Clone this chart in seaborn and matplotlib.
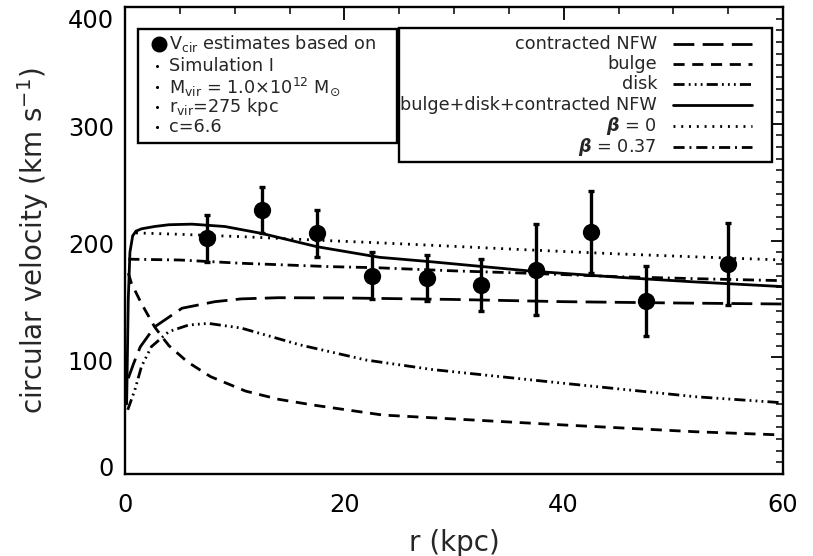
import numpy as np
import pandas as pd
import matplotlib
matplotlib.use("Agg")
import matplotlib.pyplot as plt
import matplotlib.transforms as mtransforms
import seaborn as sns
from matplotlib.lines import Line2D
from matplotlib.patches import Rectangle

# ---------------- data ----------------
r_obs = [7.5, 12.5, 17.5, 22.5, 27.5, 32.5, 37.5, 42.5, 47.5, 55.0]
v_obs = [202, 226, 206, 170, 168, 162, 175, 207, 148, 180]
e_obs = [20, 20, 20, 20, 20, 22, 39, 35, 30, 35]

r_nfw = [0.3, 0.8, 1.4, 2.7, 5.2, 8.2, 10.6, 14, 20, 30, 40, 50, 60]
v_nfw = [82, 95, 109, 126, 142, 147.6, 150, 151, 150.8, 149.5, 147.6, 146.5, 145.6]

r_bulge = [0.3, 0.6, 1.5, 2.7, 3.5, 4.0, 5.7, 7.8, 11.0, 14, 17.2, 23.5, 29.3, 40, 52, 60]
v_bulge = [172, 163, 146, 126, 116, 110, 96, 83.4, 71, 64, 59, 50.5, 47.5, 42, 36.2, 33.4]

r_disk = [0.25, 0.9, 1.5, 2.4, 4.0, 5.8, 7.6, 10.6, 16, 22, 28, 40, 52, 60]
v_disk = [55, 72, 92, 109, 122, 127.6, 129, 125, 110.5, 97.6, 89.5, 77.7, 66.2, 61]

r_tot = [0.15, 0.3, 0.45, 0.7, 1.0, 1.5, 2.7, 4.0, 6.1, 9.1, 12.5, 17.5, 23.2, 27.8, 36.9, 45, 52, 60]
v_tot = [60, 150, 190, 204, 208, 210, 212, 213.5, 214, 212, 206, 194.7, 185.6, 181.9, 173.9, 168.5, 164.5, 160.5]

r_b0 = [1.0, 5, 10.6, 18.7, 23.2, 30, 36.9, 45, 52, 60]
v_b0 = [206.5, 205.3, 203.3, 199.8, 198, 195, 191.9, 188.5, 186, 183.3]

r_b37 = [0.3, 5, 10.6, 18.7, 22.9, 30, 36.9, 45, 52, 60]
v_b37 = [184, 183.3, 180.5, 177.6, 176.7, 174, 171.9, 169, 167.3, 165.6]

x_ticks = [0, 20, 40, 60]
y_ticks = [0, 100, 200, 300, 400]

info_lines = ["Simulation I",
              r"M$_{\rm vir}$ = 1.0$\times$10$^{12}$ M$_{\odot}$",
              r"r$_{\rm vir}$=275 kpc",
              "c=6.6"]
legend_labels = ["contracted NFW", "bulge", "disk", "bulge+disk+contracted NFW",
                 r"$\boldsymbol{\beta}$ = 0", r"$\boldsymbol{\beta}$ = 0.37"]

# ---------------- style ----------------
sns.set_style("white")
plt.rcParams['font.family'] = ['DejaVu Sans']
plt.rcParams['mathtext.fontset'] = 'dejavusans'
plt.rcParams['lines.scale_dashes'] = False

W, H = 813, 556
fig = plt.figure(figsize=(W / 100, H / 100), dpi=100)
L, R, T, B = 125, 783, 7, 474
ax = fig.add_axes([L / W, 1 - B / H, (R - L) / W, (B - T) / H])

def px(x, y):
    return (x / W, 1 - y / H)

LW = 2.0
styles = {
    "nfw": (0, (15, 6)),
    "bulge": (0, (8, 5.5)),
    "disk": (0, (8, 3, 1.3, 3, 1.3, 3, 1.3, 3)),
    "tot": "-",
    "b0": (0, (1.4, 4.2)),
    "b37": (0, (8, 3.5, 1.4, 3.5)),
}

curves = [("nfw", r_nfw, v_nfw), ("bulge", r_bulge, v_bulge), ("disk", r_disk, v_disk),
          ("tot", r_tot, v_tot), ("b0", r_b0, v_b0), ("b37", r_b37, v_b37)]
for key, rr, vv in curves:
    df = pd.DataFrame({"r": rr, "v": vv})
    sns.lineplot(data=df, x="r", y="v", ax=ax, color="black", linewidth=LW,
                 linestyle=styles[key], estimator=None, sort=False)

ax.errorbar(r_obs, v_obs, yerr=e_obs, fmt="none", ecolor="black", elinewidth=2.4,
            capsize=2.5, capthick=2.4, zorder=4)
sns.scatterplot(x=r_obs, y=v_obs, ax=ax, color="black", s=155, edgecolor="black",
                linewidth=0, zorder=5)

ax.set_xlim(0, 60)
ax.set_ylim(0, 400)
ax.set_xticks(x_ticks)
ax.set_xticks(np.arange(0, 61, 5), minor=True)
ax.set_yticks(y_ticks)
ax.set_yticks(np.arange(0, 401, 10), minor=True)
ax.tick_params(which="major", direction="in", top=True, right=True, length=9,
               width=1.3, labelsize=17.4, colors="black")
ax.tick_params(which="minor", direction="in", top=True, right=True, length=5, width=1.3)
ax.tick_params(axis="x", which="major", pad=14)
ax.tick_params(axis="y", which="major", pad=8)
for s in ax.spines.values():
    s.set_linewidth(1.7)
    s.set_color("black")
ax.set_xlabel("r (kpc)", fontsize=20, labelpad=8)
ax.set_ylabel(r"circular velocity (km s$^{-1}$)", fontsize=20, labelpad=12)

# shift y tick labels like the reference (pixels, positive = down)
shifts = {0: -8, 100: 3, 200: 3, 300: 3, 400: 11}
fig.canvas.draw()
for val, lab in zip(y_ticks, ax.get_yticklabels()):
    off = mtransforms.ScaledTranslation(0, -shifts[val] / 100, fig.dpi_scale_trans)
    lab.set_transform(lab.get_transform() + off)

# ---------------- left info box ----------------
fig.patches.append(Rectangle(px(138, 143), (397 - 138) / W, (143 - 29) / H,
                             transform=fig.transFigure, fill=False, lw=1.7,
                             edgecolor="black"))
fig.add_artist(Line2D([px(159, 44)[0]], [px(159, 44)[1]], marker="o", markersize=10.5,
                      color="black", transform=fig.transFigure))
fig.text(*px(169, 44), r"V$_{\rm cir}$ estimates based on", fontsize=12.7, va="center", ha="left")
rows = [66, 87, 107, 127]
for yy, txt in zip(rows, info_lines):
    fig.add_artist(Line2D([px(157, yy)[0]], [px(157, yy)[1]], marker="o", markersize=1.2,
                          color="black", transform=fig.transFigure))
    fig.text(*px(169, yy), txt, fontsize=12.7, va="center", ha="left")

# ---------------- right legend box ----------------
fig.patches.append(Rectangle(px(399, 162), (772 - 399) / W, (162 - 28) / H,
                             transform=fig.transFigure, fill=False, lw=1.7,
                             edgecolor="black"))
lrows = [44, 64, 84, 105, 126, 147]
for yy, lab, key in zip(lrows, legend_labels, ["nfw", "bulge", "disk", "tot", "b0", "b37"]):
    fig.text(*px(657, yy), lab, fontsize=12.7, va="center", ha="right")
    x0, y0 = px(673, yy)
    x1, _ = px(752, yy)
    fig.add_artist(Line2D([x0, x1], [y0, y0], color="black", lw=LW, linestyle=styles[key],
                          transform=fig.transFigure))

fig.savefig("out.png", dpi=100)
